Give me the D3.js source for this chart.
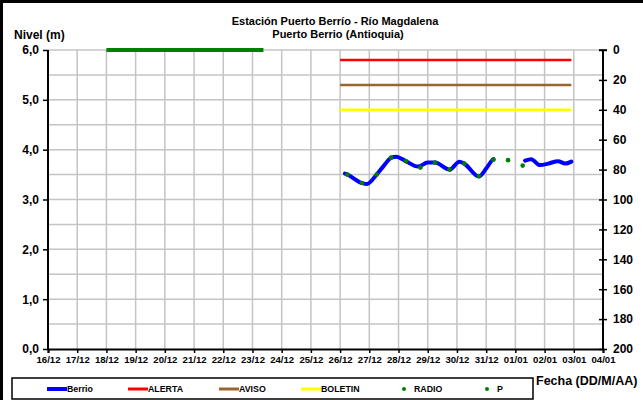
<!DOCTYPE html>
<html>
<head>
<style>
  body {
    margin: 0;
    background-color: #ffffff;
  }
  svg text {
    font-family: "Liberation Sans", Arial, sans-serif;
    font-weight: bold;
  }
</style>
<script src="https://d3js.org/d3.v7.min.js"></script>
</head>
<body>
<script>
// niveles estacion Puerto Berrio

const parse = d3.timeParse('%Y-%m-%d %H:%M');

// eje x: un tick por dia
const dayLabels = ['16/12', '17/12', '18/12', '19/12', '20/12', '21/12', '22/12', '23/12', '24/12',
  '25/12', '26/12', '27/12', '28/12', '29/12', '30/12', '31/12', '01/01', '02/01', '03/01', '04/01'];
const leftTicks = [0, 1, 2, 3, 4, 5, 6];
const rightTicks = [0, 20, 40, 60, 80, 100, 120, 140, 160, 180, 200];

// serie Berrio (null = hueco sin datos)
const berrioDates = [
  '2023-12-26 04:00', '2023-12-26 06:00', '2023-12-26 18:00', '2023-12-26 22:00',
  '2023-12-27 06:00', '2023-12-27 12:00', '2023-12-27 18:00', '2023-12-27 22:00',
  '2023-12-28 06:00', '2023-12-28 16:00', '2023-12-29 00:00', '2023-12-29 06:00',
  '2023-12-29 18:00', '2023-12-30 02:00', '2023-12-30 06:00', '2023-12-30 18:00',
  '2023-12-31 00:00', '2023-12-31 05:00', '2023-12-31 06:00', '2023-12-31 18:00',
  '2024-01-01 08:00', '2024-01-01 13:00', '2024-01-01 20:00', '2024-01-02 03:00',
  '2024-01-02 11:00', '2024-01-02 17:00', '2024-01-02 22:00'
];
const berrioLevels = [
  3.52, 3.50, 3.33, 3.31,
  3.50, 3.68, 3.84, 3.86,
  3.77, 3.66, 3.74, 3.74,
  3.60, 3.76, 3.72, 3.46,
  3.62, 3.79, 3.81, null,
  3.78, 3.81, 3.69, 3.72,
  3.77, 3.72, 3.76
];

// lecturas de radio
const radioDates = [
  '2023-12-26 06:00', '2023-12-26 18:00', '2023-12-27 06:00', '2023-12-27 18:00',
  '2023-12-28 06:00', '2023-12-28 18:00', '2023-12-29 06:00', '2023-12-29 18:00',
  '2023-12-30 06:00', '2023-12-30 18:00', '2023-12-31 06:00', '2023-12-31 18:00',
  '2024-01-01 06:00'
];
const radioLevels = [3.50, 3.33, 3.50, 3.84, 3.77, 3.64, 3.74, 3.60, 3.72, 3.47, 3.80, 3.79, 3.68];

// P (eje derecho)
const pDates = ['2023-12-18 00:00', '2023-12-23 09:00'];
const pValues = [0, 0];

// umbrales
const thresholdNames = ['ALERTA', 'AVISO', 'BOLETIN'];
const thresholdLevels = [5.80, 5.30, 4.80];
const thresholdColors = ['#ff0000', '#996633', '#ffff00'];
const thresholdRange = ['2023-12-26 00:00', '2024-01-02 22:00'];

const width = 643, height = 400;
const svg = d3.select('body').append('svg')
  .attr('width', width)
  .attr('height', height);

const x = d3.scaleTime()
  .domain([parse('2023-12-16 00:00'), parse('2024-01-04 00:00')])
  .range([48, 603]);
const yL = d3.scaleLinear().domain([0, 6]).range([349, 50]);
const yR = d3.scaleLinear().domain([0, 200]).range([50, 349]);

const days = d3.timeDay.range(parse('2023-12-16 00:00'), parse('2024-01-04 01:00'));

// marco exterior
svg.append('rect')
  .attr('x', 1.5).attr('y', 1.5)
  .attr('width', 700).attr('height', 500)
  .attr('fill', 'none').attr('stroke', '#000').attr('stroke-width', 3);

// rejilla
svg.append('g').selectAll('line')
  .data(days.slice(1, -1))
  .join('line')
  .attr('x1', d => x(d)).attr('x2', d => x(d))
  .attr('y1', yL(0)).attr('y2', yL(6))
  .attr('stroke', '#c4c4c4').attr('stroke-width', 1.5);

svg.append('g').selectAll('line')
  .data(d3.range(0.5, 6.01, 0.5))
  .join('line')
  .attr('x1', x.range()[0]).attr('x2', x.range()[1])
  .attr('y1', d => yL(d)).attr('y2', d => yL(d))
  .attr('stroke', '#c4c4c4').attr('stroke-width', 1.5);

// ejes
const fmt = d3.format('.1f');
const axisL = svg.append('g')
  .attr('transform', `translate(${x.range()[0]},0)`)
  .call(d3.axisLeft(yL).tickValues(leftTicks).tickSize(5).tickPadding(4)
    .tickFormat(d => fmt(d).replace('.', ',')));

const axisR = svg.append('g')
  .attr('transform', `translate(${x.range()[1]},0)`)
  .call(d3.axisRight(yR).tickValues(rightTicks).tickSize(4).tickPadding(6));
axisR.selectAll('.tick line').attr('x1', -4);

const axisB = svg.append('g')
  .attr('transform', `translate(0,${yL(0)})`)
  .call(d3.axisBottom(x).tickValues(days).tickSize(4).tickPadding(3)
    .tickFormat((d, i) => dayLabels[i]));

[axisL, axisR, axisB].forEach(g => {
  g.select('.domain').attr('stroke', '#000').attr('stroke-width', 2);
  g.selectAll('.tick line').attr('stroke', '#000').attr('stroke-width', 1.5);
  g.selectAll('text').attr('fill', '#000');
});
axisL.selectAll('text').attr('font-size', 12);
axisR.selectAll('text').attr('font-size', 12);
axisB.selectAll('text').attr('font-size', 9.6);
axisL.select('.domain').attr('d', `M-0,${yL(6)}V${yL(0)}`);
axisR.select('.domain').attr('d', `M0,${yR(0)}V${yR(200)}`);
axisR.append('line').attr('x1', -4).attr('x2', 4).attr('y1', yR(0)).attr('y2', yR(0))
  .attr('stroke', '#000').attr('stroke-width', 1.5);

// umbrales
svg.append('g').selectAll('line')
  .data(thresholdLevels)
  .join('line')
  .attr('x1', x(parse(thresholdRange[0])))
  .attr('x2', x(parse(thresholdRange[1])))
  .attr('y1', d => yL(d)).attr('y2', d => yL(d))
  .attr('stroke', (d, i) => thresholdColors[i])
  .attr('stroke-width', 2.5);

// P
const pData = pDates.map((d, i) => ({ date: parse(d), value: pValues[i] }));
svg.append('path')
  .datum(pData)
  .attr('fill', 'none')
  .attr('stroke', '#008000')
  .attr('stroke-width', 4)
  .attr('d', d3.line().x(d => x(d.date)).y(d => yR(d.value)));

// Berrio
const berrioData = berrioDates.map((d, i) => ({ date: parse(d), value: berrioLevels[i] }));
svg.append('path')
  .datum(berrioData)
  .attr('fill', 'none')
  .attr('stroke', '#0000ff')
  .attr('stroke-width', 4)
  .attr('stroke-linecap', 'round')
  .attr('d', d3.line()
    .defined(d => d.value !== null)
    .curve(d3.curveMonotoneX)
    .x(d => x(d.date)).y(d => yL(d.value)));

// radio
svg.append('g').selectAll('circle')
  .data(radioDates.map((d, i) => ({ date: parse(d), value: radioLevels[i] })))
  .join('circle')
  .attr('cx', d => x(d.date))
  .attr('cy', d => yL(d.value))
  .attr('r', 2.3)
  .attr('fill', '#008000');

// titulos
svg.append('text')
  .attr('x', 335).attr('y', 25)
  .attr('text-anchor', 'middle')
  .attr('font-size', 11)
  .text('Estación Puerto Berrío - Río Magdalena');
svg.append('text')
  .attr('x', 338).attr('y', 38)
  .attr('text-anchor', 'middle')
  .attr('font-size', 11)
  .text('Puerto Berrio (Antioquia)');
svg.append('text')
  .attr('x', 14).attr('y', 39)
  .attr('font-size', 12)
  .text('Nivel (m)');
svg.append('text')
  .attr('x', 536).attr('y', 385)
  .attr('font-size', 12.5)
  .text('Fecha (DD/M/AA)');

// leyenda
const legend = svg.append('g');
legend.append('rect')
  .attr('x', 12).attr('y', 378)
  .attr('width', 521).attr('height', 21)
  .attr('fill', '#fff').attr('stroke', '#000').attr('stroke-width', 1.5);

const legendItems = [
  { name: 'Berrio', color: '#0000ff', type: 'line', x: 47 },
  { name: thresholdNames[0], color: thresholdColors[0], type: 'line', x: 128 },
  { name: thresholdNames[1], color: thresholdColors[1], type: 'line', x: 219 },
  { name: thresholdNames[2], color: thresholdColors[2], type: 'line', x: 301 },
  { name: 'RADIO', color: '#008000', type: 'dot', x: 404 },
  { name: 'P', color: '#008000', type: 'dot', x: 487 }
];
const ly = 389;
legendItems.forEach(it => {
  if (it.type === 'line') {
    legend.append('line')
      .attr('x1', it.x).attr('x2', it.x + 20)
      .attr('y1', ly).attr('y2', ly)
      .attr('stroke', it.color)
      .attr('stroke-width', it.name === 'Berrio' ? 4 : 3);
    legend.append('text')
      .attr('x', it.x + 20).attr('y', ly + 3)
      .attr('font-size', 8.8)
      .text(it.name);
  } else {
    legend.append('circle')
      .attr('cx', it.x).attr('cy', ly)
      .attr('r', 2)
      .attr('fill', it.color);
    legend.append('text')
      .attr('x', it.x + 10).attr('y', ly + 3)
      .attr('font-size', 8.8)
      .text(it.name);
  }
});
</script>
</body>
</html>
